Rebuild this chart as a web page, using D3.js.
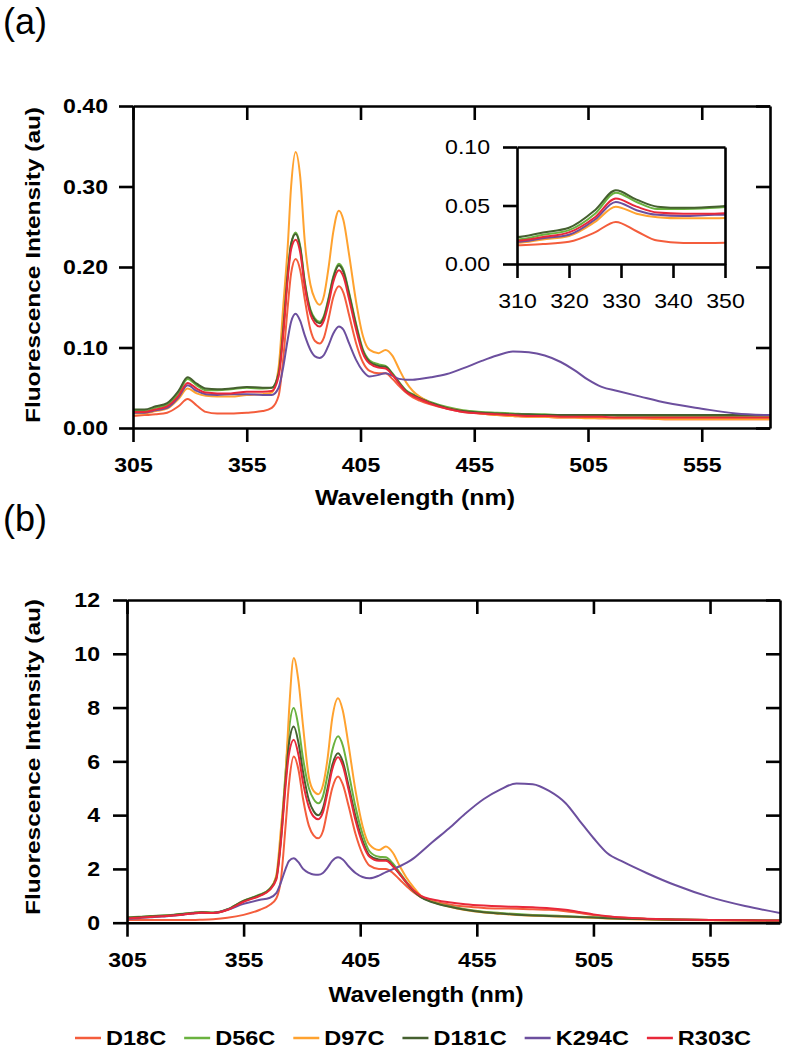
<!DOCTYPE html>
<html>
<head>
<meta charset="utf-8">
<script src="https://cdn.jsdelivr.net/npm/d3@7"></script>
<style>
  body { margin: 0; background: #fff; }
  text { font-family: "Liberation Sans", Arial, sans-serif; fill: #000; }
</style>
</head>
<body>
<div class="root"></div>
<script>
// wavelengths (nm) shared by every spectrum
var wavelength = [305, 310, 315, 320, 325, 329, 333, 337, 342, 348,
  355, 362, 366, 369, 371, 373, 374.5, 376.5, 378.5, 380.5,
  383, 385, 387, 389, 391, 393, 395.5, 397.5, 400, 403,
  406, 409, 413, 416, 419, 422, 425, 428, 431, 436,
  443, 450, 458, 465, 472, 479, 486, 493, 499, 505,
  511, 518, 528, 540, 555, 570, 585];

var seriesNames = ['D18C', 'D56C', 'D97C', 'D181C', 'K294C', 'R303C'];
var seriesColors = ['#f45d3c', '#6ab23f', '#ffa22f', '#45602f', '#6c4f9e', '#e8283a'];

var xTicks = [305, 355, 405, 455, 505, 555];
var yTicksA = [0, 0.1, 0.2, 0.3, 0.4];
var yTicksB = [0, 2, 4, 6, 8, 10, 12];
var insetXTicks = [310, 320, 330, 340, 350];
var insetYTicks = [0, 0.05, 0.10];

// panel (a)
var a_D18C = [0.015, 0.016, 0.017, 0.019, 0.027, 0.036, 0.028, 0.020, 0.018, 0.018,
  0.019, 0.021, 0.025, 0.040, 0.085, 0.150, 0.192, 0.210, 0.196, 0.160,
  0.122, 0.108, 0.105, 0.113, 0.136, 0.162, 0.176, 0.168, 0.140, 0.106,
  0.082, 0.071, 0.068, 0.068, 0.061, 0.052, 0.044, 0.038, 0.034, 0.029,
  0.024, 0.020, 0.018, 0.016, 0.015, 0.014, 0.014, 0.013, 0.013, 0.013,
  0.012, 0.012, 0.012, 0.011, 0.011, 0.011, 0.011];
var a_D56C = [0.021, 0.021, 0.025, 0.029, 0.043, 0.061, 0.053, 0.047, 0.047, 0.048,
  0.050, 0.049, 0.050, 0.068, 0.120, 0.190, 0.228, 0.243, 0.226, 0.182,
  0.147, 0.136, 0.132, 0.140, 0.162, 0.188, 0.204, 0.196, 0.168, 0.130,
  0.098, 0.084, 0.079, 0.077, 0.068, 0.057, 0.047, 0.042, 0.038, 0.032,
  0.026, 0.022, 0.020, 0.019, 0.018, 0.017, 0.017, 0.016, 0.016, 0.016,
  0.016, 0.015, 0.015, 0.015, 0.015, 0.015, 0.015];
var a_D97C = [0.018, 0.018, 0.021, 0.024, 0.036, 0.049, 0.043, 0.040, 0.039, 0.039,
  0.041, 0.042, 0.044, 0.075, 0.150, 0.225, 0.300, 0.343, 0.312, 0.232,
  0.178, 0.160, 0.153, 0.165, 0.200, 0.243, 0.270, 0.258, 0.215, 0.158,
  0.115, 0.097, 0.093, 0.097, 0.090, 0.073, 0.057, 0.046, 0.039, 0.031,
  0.025, 0.021, 0.018, 0.016, 0.015, 0.014, 0.014, 0.013, 0.013, 0.012,
  0.012, 0.012, 0.012, 0.011, 0.011, 0.011, 0.011];
var a_D181C = [0.023, 0.023, 0.027, 0.031, 0.046, 0.063, 0.055, 0.049, 0.048, 0.049,
  0.051, 0.050, 0.050, 0.068, 0.122, 0.192, 0.229, 0.241, 0.224, 0.180,
  0.145, 0.134, 0.130, 0.138, 0.160, 0.186, 0.202, 0.194, 0.166, 0.128,
  0.096, 0.082, 0.077, 0.076, 0.067, 0.056, 0.046, 0.041, 0.037, 0.031,
  0.025, 0.021, 0.019, 0.018, 0.017, 0.017, 0.016, 0.016, 0.016, 0.016,
  0.016, 0.016, 0.016, 0.016, 0.016, 0.016, 0.016];
var a_K294C = [0.019, 0.019, 0.022, 0.025, 0.038, 0.053, 0.046, 0.042, 0.041, 0.042,
  0.042, 0.041, 0.041, 0.050, 0.075, 0.110, 0.132, 0.142, 0.133, 0.115,
  0.097, 0.089, 0.087, 0.091, 0.103, 0.117, 0.126, 0.122, 0.105, 0.085,
  0.071, 0.064, 0.066, 0.068, 0.065, 0.061, 0.060, 0.060, 0.061, 0.063,
  0.067, 0.074, 0.083, 0.090, 0.095, 0.094, 0.090, 0.082, 0.072, 0.060,
  0.051, 0.046, 0.039, 0.031, 0.024, 0.018, 0.016];
var a_R303C = [0.020, 0.020, 0.023, 0.027, 0.040, 0.056, 0.049, 0.044, 0.043, 0.043,
  0.045, 0.045, 0.046, 0.064, 0.115, 0.185, 0.222, 0.234, 0.218, 0.176,
  0.141, 0.130, 0.126, 0.134, 0.155, 0.181, 0.196, 0.188, 0.160, 0.123,
  0.093, 0.080, 0.075, 0.074, 0.066, 0.055, 0.045, 0.040, 0.036, 0.030,
  0.024, 0.020, 0.018, 0.017, 0.016, 0.015, 0.015, 0.014, 0.014, 0.014,
  0.014, 0.013, 0.013, 0.013, 0.013, 0.013, 0.013];

// panel (b)
var b_D18C = [0.10, 0.10, 0.10, 0.10, 0.10, 0.10, 0.10, 0.11, 0.13, 0.18,
  0.29, 0.48, 0.65, 0.90, 1.60, 3.60, 5.20, 6.18, 5.70, 4.60,
  3.60, 3.25, 3.14, 3.40, 4.20, 5.00, 5.44, 5.15, 4.35, 3.30,
  2.55, 2.12, 2.00, 2.00, 1.85, 1.60, 1.35, 1.12, 0.95, 0.80,
  0.68, 0.60, 0.55, 0.53, 0.52, 0.50, 0.48, 0.43, 0.36, 0.29,
  0.23, 0.18, 0.14, 0.12, 0.10, 0.09, 0.08];
var b_D56C = [0.20, 0.22, 0.25, 0.27, 0.30, 0.33, 0.37, 0.40, 0.38, 0.50,
  0.82, 1.05, 1.25, 1.70, 3.20, 5.60, 7.20, 7.98, 7.30, 6.10,
  5.00, 4.60, 4.44, 4.70, 5.50, 6.40, 6.93, 6.60, 5.60, 4.30,
  3.30, 2.65, 2.45, 2.43, 2.20, 1.85, 1.50, 1.20, 0.97, 0.78,
  0.62, 0.50, 0.41, 0.36, 0.32, 0.29, 0.27, 0.24, 0.22, 0.20,
  0.18, 0.16, 0.14, 0.12, 0.10, 0.09, 0.08];
var b_D97C = [0.18, 0.20, 0.23, 0.25, 0.28, 0.31, 0.35, 0.38, 0.36, 0.48,
  0.80, 1.02, 1.22, 1.75, 3.50, 5.50, 7.90, 9.84, 9.00, 7.30,
  5.40, 4.90, 4.78, 5.10, 6.10, 7.60, 8.35, 7.90, 6.60, 4.90,
  3.60, 2.90, 2.70, 2.83, 2.60, 2.10, 1.65, 1.30, 1.00, 0.78,
  0.60, 0.47, 0.38, 0.33, 0.29, 0.26, 0.24, 0.22, 0.20, 0.18,
  0.16, 0.14, 0.12, 0.10, 0.09, 0.08, 0.07];
var b_D181C = [0.19, 0.21, 0.24, 0.26, 0.29, 0.32, 0.36, 0.39, 0.37, 0.49,
  0.81, 1.03, 1.23, 1.65, 3.10, 5.30, 6.70, 7.30, 6.70, 5.60,
  4.55, 4.15, 4.00, 4.25, 5.00, 5.85, 6.30, 6.00, 5.10, 3.95,
  3.05, 2.50, 2.35, 2.34, 2.12, 1.80, 1.46, 1.17, 0.95, 0.76,
  0.60, 0.48, 0.39, 0.34, 0.30, 0.27, 0.25, 0.23, 0.21, 0.19,
  0.17, 0.15, 0.13, 0.11, 0.10, 0.09, 0.08];
var b_K294C = [0.15, 0.17, 0.20, 0.23, 0.27, 0.30, 0.34, 0.37, 0.36, 0.48,
  0.70, 0.85, 0.92, 1.10, 1.50, 2.00, 2.30, 2.40, 2.25, 2.00,
  1.85, 1.79, 1.78, 1.85, 2.05, 2.30, 2.43, 2.35, 2.10, 1.85,
  1.70, 1.65, 1.75, 1.88, 1.99, 2.10, 2.23, 2.40, 2.62, 3.00,
  3.50, 4.05, 4.60, 4.95, 5.18, 5.15, 4.90, 4.45, 3.80, 3.15,
  2.58, 2.25, 1.84, 1.40, 0.95, 0.62, 0.36];
var b_R303C = [0.16, 0.18, 0.21, 0.24, 0.27, 0.30, 0.34, 0.37, 0.36, 0.47,
  0.78, 1.00, 1.20, 1.60, 3.00, 5.10, 6.30, 6.80, 6.25, 5.20,
  4.30, 3.95, 3.85, 4.10, 4.85, 5.70, 6.15, 5.85, 4.95, 3.80,
  2.95, 2.45, 2.30, 2.30, 2.10, 1.80, 1.48, 1.20, 1.00, 0.86,
  0.76, 0.69, 0.64, 0.61, 0.59, 0.57, 0.54, 0.48, 0.40, 0.31,
  0.24, 0.19, 0.15, 0.12, 0.10, 0.09, 0.08];

var panelA = [a_D18C, a_D56C, a_D97C, a_D181C, a_K294C, a_R303C];
var panelB = [b_D18C, b_D56C, b_D97C, b_D181C, b_K294C, b_R303C];

var svg = d3.select('.root').append('svg')
  .attr('width', 785)
  .attr('height', 1050);

// the figure is a little wider than tall, so widen every text by the same factor
function stretch(sel, k) {
  sel.each(function() {
    var w = this.getComputedTextLength();
    d3.select(this).attr('textLength', w * k).attr('lengthAdjust', 'spacingAndGlyphs');
  });
}

function styleAxis(g, bold) {
  g.selectAll('path.domain').attr('stroke', '#000').attr('stroke-width', 2.6);
  g.selectAll('.tick line').attr('stroke', '#000').attr('stroke-width', 2.6);
  g.selectAll('.tick text')
    .style('font-size', '21px')
    .style('font-weight', bold ? 'bold' : 'normal')
    .attr('fill', '#000');
  stretch(g.selectAll('.tick text'), 1.1);
}

function drawPanel(o) {
  var x = d3.scaleLinear().domain(o.xDomain).range([o.left, o.right]);
  var y = d3.scaleLinear().domain(o.yDomain).range([o.bottom, o.top]);
  var g = svg.append('g');

  if (o.inset) {
    g.append('rect')
      .attr('x', o.left).attr('y', o.top)
      .attr('width', o.right - o.left).attr('height', o.bottom - o.top)
      .attr('fill', '#fff');
  }

  g.append('clipPath').attr('id', o.id)
    .append('rect')
      .attr('x', o.left).attr('y', o.top - 2)
      .attr('width', o.right - o.left).attr('height', o.bottom - o.top + 2);

  var line = d3.line()
    .x(function(d, i) { return x(wavelength[i]); })
    .y(function(d) { return y(d); })
    .curve(d3.curveMonotoneX);

  g.append('g')
    .attr('clip-path', 'url(#' + o.id + ')')
    .selectAll('path')
      .data(o.series)
      .enter().append('path')
        .attr('d', line)
        .attr('fill', 'none')
        .attr('stroke', function(d, i) { return seriesColors[i]; })
        .attr('stroke-width', 2);

  // frame: top and right
  var top = g.append('g')
    .attr('transform', 'translate(0,' + o.top + ')')
    .call(d3.axisTop(x).tickValues(o.inset ? [] : o.xTicks).tickSize(-14).tickSizeOuter(0).tickFormat(''));
  styleAxis(top, true);
  var right = g.append('g')
    .attr('transform', 'translate(' + o.right + ',0)')
    .call(d3.axisRight(y).tickValues(o.inset ? [] : o.yTicks).tickSize(-14).tickSizeOuter(0).tickFormat(''));
  styleAxis(right, true);

  var bottom = g.append('g')
    .attr('transform', 'translate(0,' + o.bottom + ')')
    .call(d3.axisBottom(x).tickValues(o.xTicks).tickSize(14).tickSizeOuter(0).tickPadding(15).tickFormat(d3.format('d')));
  styleAxis(bottom, !o.inset);

  var left = g.append('g')
    .attr('transform', 'translate(' + o.left + ',0)')
    .call(d3.axisLeft(y).tickValues(o.yTicks).tickSize(14).tickSizeOuter(0).tickPadding(o.yPad).tickFormat(d3.format(o.yFormat)));
  styleAxis(left, !o.inset);

  return { x: x, y: y };
}

function axisTitles(o) {
  svg.append('text')
    .attr('x', o.xTitleX).attr('y', o.xTitleY)
    .attr('text-anchor', 'middle')
    .style('font-size', '22px').style('font-weight', 'bold')
    .attr('textLength', o.xTitleW).attr('lengthAdjust', 'spacingAndGlyphs')
    .text('Wavelength (nm)');

  svg.append('text')
    .attr('transform', 'translate(' + o.yTitleX + ',' + o.yTitleY + ') rotate(-90)')
    .attr('text-anchor', 'middle')
    .style('font-size', '21px').style('font-weight', 'bold')
    .attr('textLength', 316).attr('lengthAdjust', 'spacingAndGlyphs')
    .text('Fluorescence Intensity (au)');

  svg.append('text')
    .attr('x', 3).attr('y', o.labelY)
    .style('font-size', '36px')
    .text(o.label);
}

// (a)
drawPanel({ id: 'clipA', left: 133, right: 770, top: 106, bottom: 428,
  xDomain: [305, 585], yDomain: [0, 0.40], xTicks: xTicks, yTicks: yTicksA,
  yFormat: '.2f', yPad: 11, series: panelA });
axisTitles({ xTitleX: 415, xTitleY: 505, xTitleW: 200, yTitleX: 40, yTitleY: 265, labelY: 34, label: '(a)' });

// inset of (a)
drawPanel({ id: 'clipInset', inset: true, left: 517, right: 725, top: 147, bottom: 264,
  xDomain: [310, 350], yDomain: [0, 0.10], xTicks: insetXTicks, yTicks: insetYTicks,
  yFormat: '.2f', yPad: 13, series: panelA });

// (b)
drawPanel({ id: 'clipB', left: 127, right: 780, top: 600, bottom: 922.7,
  xDomain: [305, 585], yDomain: [0, 12], xTicks: xTicks, yTicks: yTicksB,
  yFormat: 'd', yPad: 13, series: panelB });
axisTitles({ xTitleX: 426, xTitleY: 1002, xTitleW: 195, yTitleX: 40, yTitleY: 757, labelY: 531, label: '(b)' });

// legend
var legend = svg.append('g').attr('class', 'legend');
var lx = 75;
seriesNames.forEach(function(name, i) {
  legend.append('line')
    .attr('x1', lx).attr('x2', lx + 26)
    .attr('y1', 1038).attr('y2', 1038)
    .attr('stroke', seriesColors[i]).attr('stroke-width', 2.5);
  var t = legend.append('text')
    .attr('x', lx + 31).attr('y', 1045)
    .style('font-size', '21px').style('font-weight', 'bold')
    .text(name);
  var w = t.node().getComputedTextLength() * 1.12;
  t.attr('textLength', w).attr('lengthAdjust', 'spacingAndGlyphs');
  lx += 31 + w + 18;
});
</script>
</body>
</html>
